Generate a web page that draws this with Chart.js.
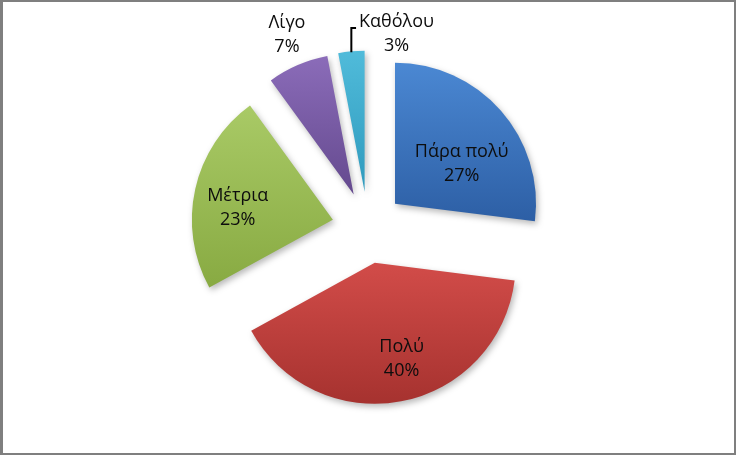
<!DOCTYPE html>
<html><head><meta charset="utf-8">
<script src="https://cdn.jsdelivr.net/npm/chart.js@4.4.1/dist/chart.umd.min.js"></script>
<style>html,body{margin:0;padding:0;background:#fff;overflow:hidden}</style>
</head><body>
<canvas id="c" width="736" height="455"></canvas>
<script>
// ---- data ----
const categories = ['Πάρα πολύ', 'Πολύ', 'Μέτρια', 'Λίγο', 'Καθόλου'];
const values = [27, 40, 23, 7, 3];
const percentLabels = ['27%', '40%', '23%', '7%', '3%'];

// ---- style ----
const topColors = ['#4b88d3', '#d24c49', '#a9ca66', '#8b6cb9', '#50bbda'];
const bottomColors = ['#2d5fa5', '#a6322f', '#88aa42', '#64498e', '#2f9abd'];
const labelAngleFrac = [0.61, 0.467, 0.435, 0.53, 2.06];
const labelRadiusFrac = [0.55, 0.71, 0.68, 1.23, 1.14];
const leaderLine = [false, false, false, false, true];
const EXPLODE = 36;
const RADIUS = 141;
const FONT = '18px "Open Sans", "Noto Sans", sans-serif';
const LINE_H = 24;

function sliceYRange(el) {
  let minY = el.y, maxY = el.y;
  const n = 40;
  for (let k = 0; k <= n; k++) {
    const a = el.startAngle + (el.endAngle - el.startAngle) * k / n;
    const y = el.y + Math.sin(a) * el.outerRadius;
    minY = Math.min(minY, y); maxY = Math.max(maxY, y);
  }
  return [minY, maxY];
}

const explodePlugin = {
  id: 'explode',
  afterDatasetsUpdate(chart) {
    const meta = chart.getDatasetMeta(0);
    meta.data.forEach((el, i) => {
      if (el._wrapped) return;
      const orig = el.draw;
      el.draw = function (ctx, area) {
        const mid = (this.startAngle + this.endAngle) / 2;
        const dx = Math.cos(mid) * EXPLODE, dy = Math.sin(mid) * EXPLODE;
        const [y0, y1] = sliceYRange(this);
        const g = ctx.createLinearGradient(0, y0, 0, y1);
        g.addColorStop(0, topColors[i]);
        g.addColorStop(1, bottomColors[i]);
        this.options = Object.assign({}, this.options, { backgroundColor: g, borderWidth: 0 });
        ctx.save();
        ctx.translate(dx, dy);
        ctx.shadowColor = 'rgba(0,0,0,0.28)';
        ctx.shadowBlur = 6;
        ctx.shadowOffsetX = 2;
        ctx.shadowOffsetY = 3;
        orig.call(this, ctx, area);
        ctx.restore();
      };
      el._wrapped = true;
    });
  },
  afterDatasetsDraw(chart) {
    const ctx = chart.ctx;
    const meta = chart.getDatasetMeta(0);
    ctx.save();
    ctx.font = FONT;
    ctx.fillStyle = '#0d0d0d';
    ctx.textAlign = 'center';
    ctx.textBaseline = 'middle';
    meta.data.forEach((el, i) => {
      const mid = (el.startAngle + el.endAngle) / 2;
      const ax = el.x + Math.cos(mid) * EXPLODE, ay = el.y + Math.sin(mid) * EXPLODE;
      const a = el.startAngle + (el.endAngle - el.startAngle) * labelAngleFrac[i];
      const r = el.outerRadius * labelRadiusFrac[i];
      const lx = ax + Math.cos(a) * r, ly = ay + Math.sin(a) * r;
      ctx.fillText(categories[i], lx, ly - LINE_H / 2);
      ctx.fillText(percentLabels[i], lx, ly + LINE_H / 2);
      if (leaderLine[i]) {
        const w = Math.max(ctx.measureText(categories[i]).width, ctx.measureText(percentLabels[i]).width);
        const sx = ax + Math.cos(mid) * el.outerRadius, sy = ay + Math.sin(mid) * el.outerRadius;
        const ty = ly - 6;
        ctx.beginPath();
        ctx.strokeStyle = '#000';
        ctx.lineWidth = 2;
        ctx.moveTo(sx, sy + 1);
        ctx.lineTo(sx, ty);
        ctx.lineTo(lx - w / 2 - 3, ty);
        ctx.stroke();
      }
    });
    ctx.restore();
  },
  afterDraw(chart) {
    const ctx = chart.ctx;
    ctx.save();
    ctx.fillStyle = '#7f7f7f';
    ctx.fillRect(0, 0, 736, 2);
    ctx.fillRect(0, 0, 3, 455);
    ctx.fillRect(734, 0, 2, 455);
    ctx.fillRect(0, 453, 736, 2);
    ctx.restore();
  }
};

new Chart(document.getElementById('c'), {
  type: 'pie',
  data: {
    labels: categories,
    datasets: [{ data: values, backgroundColor: topColors, borderWidth: 0 }]
  },
  options: {
    responsive: false,
    animation: false,
    events: [],
    radius: RADIUS,
    layout: { padding: 0 },
    plugins: { legend: { display: false }, tooltip: { enabled: false } }
  },
  plugins: [explodePlugin]
});
</script>
</body></html>
